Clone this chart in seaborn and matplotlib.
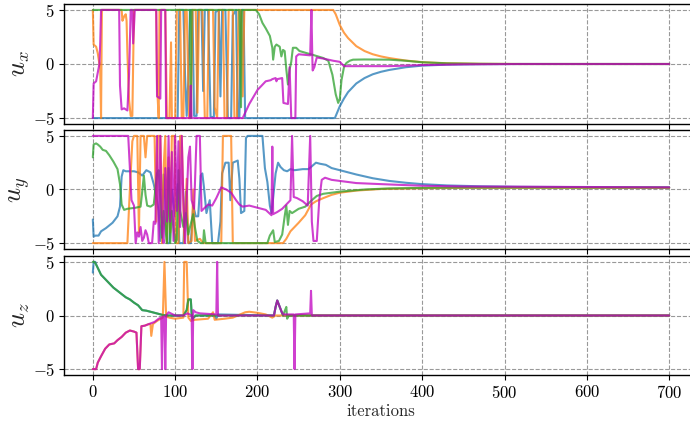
import numpy as np
import pandas as pd
import matplotlib
matplotlib.use("Agg")
import matplotlib.pyplot as plt
import seaborn as sns

# ---------------- data (iteration, value) ----------------
ux_blue = [(0,-5),(103,-5),(105,5),(110,5),(112,-1),(114,-4.8),(116,-1.5),(118,5),(121,5),(123,-4.8),(126,-4.8),
           (128,5),(132,5),(134,-2.5),(136,5),(140,5),(143,-4.9),(147,-4.9),(149,4.8),(153,5),(155,-3),(157,5),
           (161,5),(164,-5),(168,-5),(170,4.5),(174,5),(176,-5),(178,-5),(180,5),(183,5),(185,-5),(294,-5),
           (300,-3.9),(305,-3.2),(310,-2.6),(320,-1.8),(330,-1.3),(340,-0.95),(350,-0.72),(360,-0.55),(380,-0.3),
           (400,-0.15),(430,-0.06),(470,-0.02),(520,0),(700,0)]
ux_orange = [(0,5),(1,1.8),(4,1.6),(6,1.0),(8,0),(9,-0.5),(10,-5),(11,5),(35,5),(36,4.0),(38,4.4),(40,4.6),(41,4.0),
             (42,1),(44,-3.3),(46,-4.8),(48,-4.8),(50,5),(77,5),(78,-2),(80,-5),(81,5),(88,5),(90,-5),(93,-5),(95,2),
             (96,-5),(100,-5),(102,5),(106,5),(108,-5),(110,-5),(112,5),(114,5),(117,-5),(119,-5),(121,5),(125,5),
             (127,-4.5),(129,5),(133,5),(136,-5),(139,-5),(141,5),(146,5),(148,-4),(151,-5),(153,5),(158,5),(160,-5),
             (163,-5),(165,5),(170,5),(172,-5),(175,-5),(177,5),(180,5),(182,-3),(184,5),(292,5),(295,4.6),(300,3.6),
             (305,2.9),(310,2.4),(320,1.65),(330,1.2),(340,0.9),(350,0.7),(360,0.55),(380,0.32),(400,0.17),(430,0.07),
             (470,0.02),(520,0),(700,0)]
ux_green = [(0,5),(118,5),(119,-5),(120,5),(178,5),(180,-4),(181,5),(198,5),(202,4.6),(206,3.8),(210,3.3),(215,2.6),
            (218,1.5),(219,0.4),(221,1.6),(223,1.8),(227,1.6),(229,0.7),(231,1.3),(233,1.2),(235,-0.5),(237,-1.9),
            (239,-0.5),(241,0.2),(243,1.5),(247,1.5),(251,1.2),(260,1.0),(267,0.85),(280,0.55),(286,0.3),(291,-1.0),
            (295,-2.8),(298,-3.6),(300,-3.2),(302,-1.5),(305,-0.3),(308,0.1),(312,0.3),(316,0.4),(330,0.42),
            (360,0.4),(380,0.3),(400,0.16),(430,0.06),(470,0.02),(520,0),(700,0)]
ux_magenta = [(0,-5),(1,-1.8),(4,-1.6),(6,-0.8),(8,0),(9,2),(10,5),(32,5),(33,-2),(35,-4.2),(38,-4.1),(42,-4.3),
              (44,-1),(46,5),(48,5),(49,1.9),(51,5),(77,5),(78,-3),(82,-3.2),(83,5),(88,5),(89,-5),(118,-5),(119,-2),
              (120,-5),(182,-5),(190,-3.7),(200,-2.4),(210,-1.6),(216,-1.5),(218,-1.4),(222,-1.3),(223,-1.6),
              (224,-1.4),(230,-1.3),(231.5,-3.6),(237,-3.7),(239,-0.3),(241,-5),(246,-5),(247,0.7),(250,0.9),
              (264,0.8),(265.5,5),(266.5,0.9),(267,-0.6),(269,-0.3),(272,0.6),(280,0.5),(292,0.3),(300,0.2),
              (305,-0.2),(330,-0.2),(360,-0.2),(400,-0.1),(450,-0.03),(520,0),(700,0)]

uy_blue = [(0,-2.8),(1,-4.4),(3,-4.3),(7,-4.3),(10,-3.9),(16,-3.6),(24,-3.1),(30,-2.5),(33,-1.6),(35,1.2),(37,1.8),
           (40,1.7),(50,1.7),(55,1.6),(60,1.3),(65,1.8),(70,1.6),(74,0.5),(77,-0.6),(80,-2),(82,-4.8),(84,-3),
           (86,1.4),(88,-1),(90,-5),(93,-5),(96,0),(100,-2.5),(103,0.5),(105,-5),(110,-5),(113,-0.2),(116,-5),
           (119,-5),(122,-1.5),(125,-2.5),(128,-2.5),(131,1.3),(133,1.5),(135,0.2),(138,-2.2),(142,-1),(145,-5),
           (152,-5),(155,-3),(157,1.5),(161,2.5),(165,2.5),(167,-1),(170,2.5),(176,2.7),(178,1),(180,-2.2),
           (184,-2.0),(186,4.8),(188,5),(206,5),(209,2),(212,0.7),(215,-1.5),(217,-2.2),(219,-0.8),(222,1.5),
           (225,2.5),(228,2.1),(232,1.8),(236,1.7),(240,1.9),(245,1.8),(255,1.9),(262,1.9),(271,2.5),(276,2.4),
           (283,2.3),(290,2.0),(300,1.8),(310,1.6),(320,1.4),(340,1.05),(360,0.8),(380,0.63),(400,0.5),(430,0.38),
           (470,0.3),(520,0.25),(600,0.22),(700,0.2)]
uy_orange = [(0,-5),(42,-5),(45,0),(48,4.5),(50,5),(54,5),(56,-4),(58,5),(62,5),(64,3),(66,5),(75,5),(77,-3),(79,5),
             (82,5),(84,-5),(86,2),(88,5),(90,-5),(92,3),(94,-4),(96,5),(99,5),(101,-5),(104,-5),(106,5),(108,5),
             (111,-5),(114,1),(116,-5),(120,-4.8),(122,0),(124,-4.8),(130,-4.6),(134,-5),(156,-5),(158,5),(168,5),
             (170,-5),(231,-5),(235,-4.6),(240,-3.9),(250,-3.1),(258,-2.4),(265,-1.4),(271,-1.1),(280,-0.8),
             (290,-0.5),(300,-0.3),(320,-0.1),(350,0.05),(400,0.12),(450,0.15),(700,0.15)]
uy_green = [(0,3.0),(1,4.2),(4,4.3),(6,4.2),(9,4.0),(12,3.7),(16,3.6),(20,3.2),(25,2.6),(30,1.9),(33,0.5),(35,-1.4),
            (38,-1.9),(42,-1.8),(52,-1.7),(58,-1.6),(60,-0.2),(62,1.3),(64,-0.5),(66,-1.5),(70,-1.6),(74,-1.4),
            (78,1.5),(80,1.8),(82,-1),(84,-4.5),(86,-2),(90,-5),(92,2),(94,-5),(96,-2),(100,-5),(102,-4.7),
            (104,1.8),(106,-2),(110,-3.5),(113,-2.2),(116,-4.2),(118,-3.5),(122,-2.3),(124,-3.5),(127,-4.8),
            (131,-5),(134,-5),(135,-3.8),(137,-5),(140,-5),(212,-5),(215,-4.3),(219,-3.8),(221,-4.9),(226,-4.8),
            (230,-4.2),(233,-2.5),(235,-1.5),(237,-3.3),(239,-2.0),(242,-2.2),(250,-1.8),(258,-1.6),(266,-1.0),
            (272,-0.6),(280,-0.4),(290,-0.3),(300,-0.2),(330,0),(360,0.1),(400,0.15),(450,0.18),(700,0.18)]
uy_magenta = [(0,5),(43,5),(45,2),(47,-1),(50,-1.5),(52,-5),(54,-4),(56,-4.4),(58,-3.5),(60,-4.8),(62,-4.5),
              (64,-3.8),(66,-4.2),(68,-5),(72,-5),(74,-3.0),(76,-3.2),(78,5),(80,-5),(82,5),(84,-4),(86,-5),(88,2),
              (90,-3),(92,5),(94,-3),(96,3.5),(98,-4.8),(100,5),(102,-2),(104,4.5),(106,-3.5),(108,5),(110,-1),
              (112,-5),(116,3),(118,4),(120,-1),(123,-1.8),(126,5),(130,5),(132,-2),(136,-1.7),(140,-1.4),
              (145,-1.5),(150,-0.8),(156,0.2),(162,0.0),(168,-0.3),(174,-1.0),(178,-1.4),(182,-1.6),(190,-1.5),
              (200,-1.7),(210,-1.9),(217,-2.4),(218,4),(219,-2.3),(224,-2.1),(230,-1.8),(235,-1.4),(240,-1.0),
              (242,5),(244,-0.7),(248,-0.8),(255,-1.1),(261,-1.5),(264,5),(266,-3),(268,-4.8),(272,-4.8),(275,-1),
              (278,0.9),(282,1.1),(290,0.9),(300,0.8),(320,0.6),(350,0.5),(400,0.35),(450,0.28),(700,0.2)]

uz_blue = [(0,4),(1,5),(3,5),(5,4.6),(10,3.8),(15,3.4),(20,3.0),(25,2.6),(30,2.3),(35,2.0),(40,1.7),(45,1.5),(50,1.2),
           (55,0.95),(60,0.5),(65,0.45),(70,0.35),(80,0.15),(85,0.05),(90,0),(110,0),(114,0.5),(116,1.5),(119,1.5),
           (120,0.2),(121,-0.3),(125,0),(148,0),(150,-0.3),(152,0.1),(220,0),(222,0.8),(224,1.4),(226,1.0),(229,0.4),
           (231,0),(700,0)]
uz_orange = [(0,-5),(4,-5),(6,-4.4),(10,-3.8),(15,-3.1),(20,-2.7),(26,-2.6),(30,-2.3),(35,-2.0),(40,-1.6),(45,-1.4),
             (50,-1.5),(53,-1.6),(55,-5),(57,-5),(59,-1.0),(63,-0.95),(68,-0.8),(70,-0.8),(71,-1.9),(73,-0.8),
             (78,-0.5),(85,-0.2),(87,5),(89,-0.1),(93,-0.2),(100,-0.3),(110,-0.2),(111,5),(114,5),(116,-0.2),
             (119,-0.5),(124,-0.4),(140,-0.3),(146,0.3),(148,-0.4),(160,-0.3),(170,-0.2),(185,0.3),(190,0.35),
             (200,0.25),(210,0.1),(218,-0.2),(222,0),(700,0)]
uz_green = [(0,5),(2,5),(5,4.6),(10,3.8),(15,3.4),(20,3.0),(25,2.6),(30,2.3),(35,2.0),(40,1.7),(45,1.5),(50,1.2),
            (55,0.95),(60,0.5),(65,0.45),(70,0.35),(80,0.15),(85,0.05),(90,0),(110,0),(114,0.5),(116,1.5),(119,1.5),
            (120,0.2),(121,-0.3),(125,0),(220,0),(222,0.8),(224,1.4),(226,1.0),(229,0.4),(231,0),(233,0.4),(235,0.8),
            (236,-0.3),(238,0),(700,0)]
uz_magenta = [(0,-5),(4,-5),(6,-4.4),(10,-3.8),(15,-3.1),(20,-2.7),(26,-2.6),(30,-2.3),(35,-2.0),(40,-1.6),
              (45,-1.4),(50,-1.5),(53,-1.6),(55,-5),(57,-5),(59,-1.0),(63,-0.95),(68,-0.8),(75,-0.6),(80,-0.3),
              (83,-0.2),(84,-5),(85,-0.1),(87,-0.1),(88,-5),(89,0),(92,0.3),(100,0),(110,0),(115,0.2),(120,0),
              (121,-5),(122,0.5),(125,0.3),(130,0.2),(150,0.1),(151,5),(152,0),(200,0),(220,0),(222,0.8),(224,1.4),
              (226,1.0),(229,0.4),(231,0.1),(244,0.1),(245,-5),(246,0.1),(264,0.2),(265,2.3),(266,0),(700,0)]

panels = ["$u_x$", "$u_y$", "$u_z$"]
series_names = ["s1", "s2", "s3", "s4"]
panel_data = [
    [ux_blue, ux_orange, ux_green, ux_magenta],
    [uy_blue, uy_orange, uy_green, uy_magenta],
    [uz_blue, uz_orange, uz_green, uz_magenta],
]
xticks = [0, 100, 200, 300, 400, 500, 600, 700]
yticks = [-5, 0, 5]

rows = []
for p, lists in zip(panels, panel_data):
    for s, pts in zip(series_names, lists):
        for it, v in pts:
            rows.append((p, s, it, v))
df = pd.DataFrame(rows, columns=["panel", "series", "it", "val"])

# ---------------- style ----------------
sns.set_style("ticks")
plt.rcParams.update({
    "font.family": "serif",
    "font.serif": ["cmr10", "DejaVu Serif"],
    "mathtext.fontset": "cm",
    "axes.formatter.use_mathtext": True,
    "axes.unicode_minus": True,
    "axes.edgecolor": "black",
    "axes.linewidth": 1.0,
    "xtick.color": "black",
    "ytick.color": "black",
    "xtick.direction": "out",
    "ytick.direction": "out",
})
palette = {"s1": "#1f77b4", "s2": "#ff7f0e", "s3": "#2ca02c", "s4": "#bf00bf"}

fig = plt.figure(figsize=(6.9, 4.21), dpi=100)
W, H = 690, 421
left, right = 64, 698
boxes = [(4, 124), (130, 249), (256, 375)]
axes = []
for (top, bot) in boxes:
    ax = fig.add_axes([left / W, 1 - bot / H, (right - left) / W, (bot - top) / H])
    axes.append(ax)

for ax, p in zip(axes, panels):
    sub = df[df.panel == p]
    sns.lineplot(data=sub, x="it", y="val", hue="series", palette=palette, hue_order=series_names,
                 estimator=None, sort=False, legend=False, alpha=0.75, linewidth=1.5, ax=ax)
    ax.set_xlim(-35, 735)
    ax.set_ylim(-5.55, 5.55)
    ax.set_xticks(xticks)
    ax.set_yticks(yticks)
    ax.grid(True, linestyle="--", color="#999999", linewidth=0.8)
    ax.set_axisbelow(True)
    ax.tick_params(axis="both", length=3.5, width=0.8, labelsize=12, pad=3)
    ax.set_ylabel(p, fontsize=19)
    ax.yaxis.set_label_coords(-0.05, 0.5)
    ax.set_xlabel("")
    for sp in ax.spines.values():
        sp.set_visible(True)
        sp.set_color("black")

for ax in axes[:-1]:
    ax.tick_params(axis="x", labelbottom=False)
axes[-1].set_xlabel("iterations", fontsize=12, labelpad=2)

fig.savefig("out.png", dpi=100)
